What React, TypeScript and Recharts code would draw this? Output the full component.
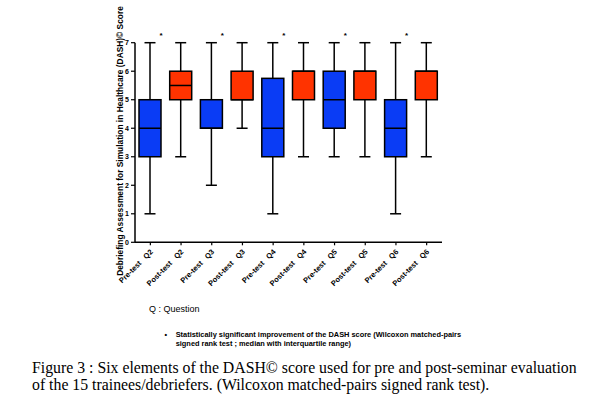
import React from "react";
import { ComposedChart, Bar, XAxis, YAxis } from "recharts";

const CATEGORIES = [
  "Pre-test\u00a0\u00a0\u00a0Q2",
  "Post-test\u00a0\u00a0\u00a0Q2",
  "Pre-test\u00a0\u00a0\u00a0Q3",
  "Post-test\u00a0\u00a0\u00a0Q3",
  "Pre-test\u00a0\u00a0\u00a0Q4",
  "Post-test\u00a0\u00a0\u00a0Q4",
  "Pre-test\u00a0\u00a0\u00a0Q5",
  "Post-test\u00a0\u00a0\u00a0Q5",
  "Pre-test\u00a0\u00a0\u00a0Q6",
  "Post-test\u00a0\u00a0\u00a0Q6",
];
const MINS = [1, 3, 2, 4, 1, 3, 3, 3, 1, 3];
const Q1S = [3, 5, 4, 5, 3, 5, 4, 5, 3, 5];
const MEDIANS = [4, 5.5, 4, 5, 4, 6, 5, 6, 4, 6];
const Q3S = [5, 6, 5, 6, 5.75, 6, 6, 6, 5, 6];
const MAXS = [7, 7, 7, 7, 7, 7, 7, 7, 7, 7];
// one flag per question (Q2..Q6)
const SIGNIFICANT = [true, true, true, true, true];
const Y_TICKS = [0, 1, 2, 3, 4, 5, 6, 7];
const STAR_LEVEL = 7.34;

const PRE_COLOR = "#0a3cf5";
const POST_COLOR = "#ff3300";
const FONT = "'Liberation Sans', Arial, sans-serif";

const data = CATEGORIES.map((name, i) => ({
  name,
  range: [MINS[i], MAXS[i]],
  min: MINS[i],
  q1: Q1S[i],
  median: MEDIANS[i],
  q3: Q3S[i],
  max: MAXS[i],
  pre: i % 2 === 0,
  star: i % 2 === 0 && SIGNIFICANT[i / 2],
}));

function BoxShape(props: any) {
  const { x, y, width, height, payload, background } = props;
  const top = Math.min(y, y + height);
  const h = Math.abs(height);
  const span = payload.max - payload.min;
  const pv = (v: number) => top + ((payload.max - v) / span) * h;
  const cx = x + width / 2;
  const cap = 11;
  const bandHalf = background ? background.width / 2 : width * 0.7;
  return (
    <g>
      <line x1={cx} x2={cx} y1={pv(payload.max)} y2={pv(payload.q3)} stroke="#000" strokeWidth={1.5} />
      <line x1={cx} x2={cx} y1={pv(payload.q1)} y2={pv(payload.min)} stroke="#000" strokeWidth={1.5} />
      <line x1={cx - cap / 2} x2={cx + cap / 2} y1={pv(payload.max)} y2={pv(payload.max)} stroke="#000" strokeWidth={1.5} />
      <line x1={cx - cap / 2} x2={cx + cap / 2} y1={pv(payload.min)} y2={pv(payload.min)} stroke="#000" strokeWidth={1.5} />
      <rect
        x={x}
        y={pv(payload.q3)}
        width={width}
        height={pv(payload.q1) - pv(payload.q3)}
        fill={payload.pre ? PRE_COLOR : POST_COLOR}
        stroke="#000"
        strokeWidth={1.5}
      />
      <line x1={x} x2={x + width} y1={pv(payload.median)} y2={pv(payload.median)} stroke="#000" strokeWidth={1.5} />
      {payload.star && (
        <text
          x={cx + bandHalf}
          y={pv(STAR_LEVEL) + 4.6}
          textAnchor="middle"
          fontSize={8}
          fontWeight="bold"
          fontFamily={FONT}
          fill="#000"
        >
          *
        </text>
      )}
    </g>
  );
}

function XTick(props: any) {
  const { x, y, payload } = props;
  return (
    <g transform={`translate(${x + 3},${y + 5})`}>
      <text
        transform="rotate(-45)"
        textAnchor="end"
        fontSize={7.5}
        fontWeight="bold"
        fontFamily={FONT}
        fill="#000"
      >
        {payload.value}
      </text>
    </g>
  );
}

export default function App() {
  return (
    <div style={{ position: "absolute", left: 0, top: 0, width: 600, height: 400, background: "#fff" }}>
      <ComposedChart
        width={600}
        height={400}
        data={data}
        margin={{ top: 42.7, right: 158, bottom: 97.7, left: 110 }}
      >
        <XAxis
          dataKey="name"
          interval={0}
          tick={<XTick />}
          tickSize={3}
          axisLine={{ stroke: "#000", strokeWidth: 1.5 }}
          tickLine={{ stroke: "#000", strokeWidth: 1.2 }}
          height={60}
        />
        <YAxis
          domain={[0, 7]}
          ticks={Y_TICKS}
          width={25}
          tickSize={4}
          axisLine={{ stroke: "#000", strokeWidth: 1.5 }}
          tickLine={{ stroke: "#000", strokeWidth: 1.2 }}
          tick={{ fontSize: 7, fontWeight: "bold", fill: "#000", fontFamily: FONT }}
          label={{
            content: (p: any) => {
              const vb = p.viewBox;
              const lx = vb.x + 13;
              const ly = vb.y + vb.height / 2 - 1.5;
              return (
                <text
                  x={lx}
                  y={ly}
                  transform={`rotate(-90, ${lx}, ${ly})`}
                  textAnchor="middle"
                  fontSize={8.4}
                  fontWeight="bold"
                  fontFamily={FONT}
                  fill="#000"
                >
                  Debriefing Assessment for Simulation in Healthcare (DASH)© Score
                </text>
              );
            },
          }}
        />
        <Bar dataKey="range" barSize={22} shape={<BoxShape />} isAnimationActive={false} />
      </ComposedChart>

      <div
        style={{
          position: "absolute",
          left: 149,
          top: 303.7,
          fontFamily: FONT,
          fontSize: 9,
          lineHeight: "11px",
          whiteSpace: "nowrap",
        }}
      >
        Q : Question
      </div>

      <div
        style={{
          position: "absolute",
          left: 164.5,
          top: 330.4,
          fontFamily: FONT,
          fontSize: 7.4,
          lineHeight: "9px",
          fontWeight: "bold",
        }}
      >
        •
      </div>
      <div
        style={{
          position: "absolute",
          left: 175.7,
          top: 330.4,
          fontFamily: FONT,
          fontSize: 7.4,
          lineHeight: "9px",
          fontWeight: "bold",
          whiteSpace: "nowrap",
        }}
      >
        Statistically significant improvement of the DASH score (Wilcoxon matched-pairs
        <br />
        signed rank test ; median with interquartile range)
      </div>

      <div
        style={{
          position: "absolute",
          left: 32,
          top: 358.5,
          fontFamily: "'Liberation Serif', 'Times New Roman', serif",
          fontSize: 15.8,
          lineHeight: "17px",
          whiteSpace: "nowrap",
        }}
      >
        Figure 3 : Six elements of the DASH© score used for pre and post-seminar evaluation
        <br />
        of the 15 trainees/debriefers. (Wilcoxon matched-pairs signed rank test).
      </div>
    </div>
  );
}
